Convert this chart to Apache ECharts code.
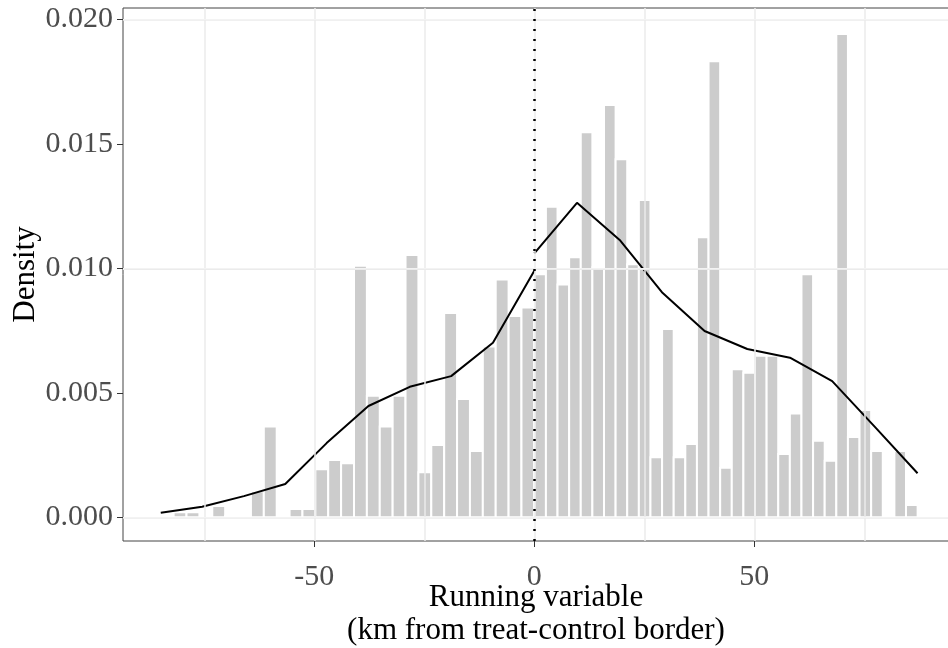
<!DOCTYPE html>
<html>
<head>
<meta charset="utf-8">
<script src="https://cdn.jsdelivr.net/npm/echarts@6/dist/echarts.min.js"></script>
<style>
  html, body { margin: 0; padding: 0; background: #fff; }
  #chart { width: 948px; height: 648px; }
</style>
</head>
<body>
<div id="chart"></div>
<script>
// histogram bins: left of the border and right of the border use different widths
var leftBinStart = -84.9;
var leftBinWidth = 2.928;
var leftDensity = [0, 0.0002, 0.0002, 0, 0.00045, 0.00006, 0, 0.00105, 0.00365, 0,
  0.00033, 0.00033, 0.00193, 0.0023, 0.00217, 0.0101, 0.00488, 0.00365, 0.00488, 0.01053,
  0.00181, 0.0029, 0.0082, 0.00475, 0.00266, 0.00686, 0.00955, 0.00808, 0.00843];

var rightBinStart = 0;
var rightBinWidth = 2.64;
var rightDensity = [0.00976, 0.01247, 0.00935, 0.01044, 0.01546, 0.01004, 0.01656, 0.01438, 0.01016, 0.01274,
  0.00241, 0.00756, 0.00241, 0.00294, 0.01125, 0.01832, 0.00199, 0.00595, 0.00581, 0.00649,
  0.00649, 0.00254, 0.00417, 0.00976, 0.00307, 0.00227, 0.01941, 0.00322, 0.00431, 0.00266,
  0, 0.00266, 0.00049];

// fitted density on each side
var fitLeftX = [-84.9, -75.5, -66.0, -56.6, -47.2, -37.7, -28.3, -18.9, -9.4, 0];
var fitLeftY = [0.000185, 0.000426, 0.00085, 0.00134, 0.00298, 0.00447, 0.00524, 0.00567, 0.00701, 0.0099];
var fitRightX = [0, 9.7, 19.4, 29.0, 38.7, 48.4, 58.1, 67.7, 77.4, 87.1];
var fitRightY = [0.0106, 0.01263, 0.01114, 0.00904, 0.00748, 0.00676, 0.00641, 0.00547, 0.00363, 0.00177];

var xTicks = [-50, 0, 50];
var xGrid = [-75, -50, -25, 0, 25, 50, 75];
var yTicks = [0, 0.005, 0.01, 0.015, 0.02];
var yGrid = [0.0025, 0.0075, 0.0125, 0.0175];

var serif = 'Liberation Serif';

function bins(start, width, vals) {
  var out = [];
  for (var i = 0; i < vals.length; i++) {
    out.push([start + i * width, start + (i + 1) * width, vals[i]]);
  }
  return out;
}
function pairs(xs, ys) {
  return xs.map(function (x, i) { return [x, ys[i]]; });
}

var barData = bins(leftBinStart, leftBinWidth, leftDensity)
  .concat(bins(rightBinStart, rightBinWidth, rightDensity));

var gridMarks = [];
xGrid.forEach(function (v) { gridMarks.push({ xAxis: v, lineStyle: { color: '#ebebeb', width: 1.5, type: 'solid' } }); });
yTicks.forEach(function (v) { gridMarks.push({ yAxis: v, lineStyle: { color: '#ebebeb', width: 1.5, type: 'solid' } }); });
yGrid.forEach(function (v) { gridMarks.push({ yAxis: v, lineStyle: { color: '#f3f3f3', width: 1, type: 'solid' } }); });

var myChart = echarts.init(document.getElementById('chart'));

var option = {
  animation: false,
  backgroundColor: '#fff',
  grid: {
    left: 123, top: 8, width: 826, height: 533,
    outerBoundsMode: 'none',
    containLabel: false,
    show: true, borderColor: '#444', borderWidth: 1, backgroundColor: 'transparent'
  },
  xAxis: {
    type: 'value',
    min: -93.48, max: 94.25,
    axisLine: { show: false, onZero: false },
    splitLine: { show: false },
    axisTick: { show: true, customValues: xTicks, length: 6, lineStyle: { color: '#333', width: 1 } },
    axisLabel: { customValues: xTicks, color: '#4d4d4d', fontSize: 30, fontFamily: serif, margin: 21 },
    name: 'Running variable\n(km from treat-control border)',
    nameLocation: 'middle',
    nameMoveOverlap: false,
    nameGap: 40,
    nameTextStyle: { color: '#000', fontSize: 31, fontFamily: serif, lineHeight: 33 }
  },
  yAxis: {
    type: 'value',
    min: -0.000952, max: 0.020454,
    axisLine: { show: false, onZero: false },
    splitLine: { show: false },
    axisTick: { show: true, customValues: yTicks, length: 6, lineStyle: { color: '#333', width: 1 } },
    axisLabel: {
      customValues: yTicks, color: '#4d4d4d', fontSize: 30, fontFamily: serif, margin: 10,
      formatter: function (v) { return v.toFixed(3); }
    },
    name: 'Density',
    nameLocation: 'middle',
    nameMoveOverlap: false,
    nameGap: 82,
    nameTextStyle: { color: '#000', fontSize: 31, fontFamily: serif }
  },
  series: [
    {
      // panel grid lines
      type: 'line',
      data: [],
      silent: true,
      z: 1,
      markLine: {
        silent: true, symbol: ['none', 'none'], label: { show: false },
        animation: false,
        data: gridMarks
      }
    },
    {
      type: 'custom',
      z: 2,
      silent: true,
      data: barData,
      encode: { x: [0, 1], y: 2 },
      renderItem: function (params, api) {
        var p0 = api.coord([api.value(0), 0]);
        var p1 = api.coord([api.value(1), api.value(2)]);
        return {
          type: 'rect',
          shape: { x: p0[0], y: p1[1], width: p1[0] - p0[0], height: p0[1] - p1[1] },
          style: { fill: 'rgba(0,0,0,0.2)', stroke: '#fff', lineWidth: 2 }
        };
      }
    },
    {
      type: 'line',
      z: 3,
      data: pairs(fitLeftX, fitLeftY),
      showSymbol: false,
      lineStyle: { color: '#000', width: 2 },
      silent: true
    },
    {
      type: 'line',
      z: 3,
      data: pairs(fitRightX, fitRightY),
      showSymbol: false,
      lineStyle: { color: '#000', width: 2 },
      silent: true
    },
    {
      // cutoff
      type: 'line',
      data: [],
      z: 4,
      markLine: {
        silent: true, symbol: ['none', 'none'], label: { show: false },
        animation: false,
        lineStyle: { color: '#000', width: 2.5, type: [2, 8] },
        data: [{ xAxis: 0 }]
      }
    }
  ]
};

myChart.setOption(option);
</script>
</body>
</html>
